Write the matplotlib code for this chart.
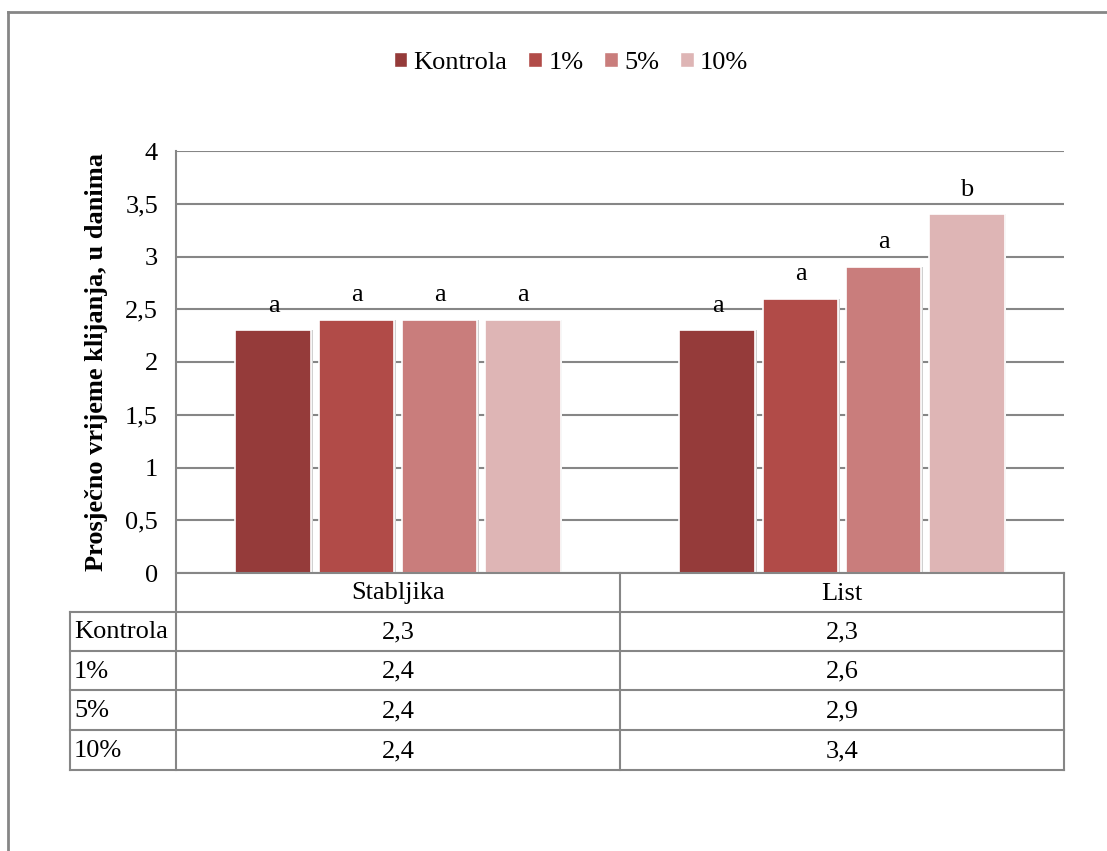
import matplotlib
matplotlib.use("Agg")
import matplotlib.pyplot as plt
from matplotlib.patches import Rectangle
from matplotlib.lines import Line2D
import numpy as np

categories = ["Stabljika", "List"]
series_names = ["Kontrola", "1%", "5%", "10%"]
values = {
    "Kontrola": [2.3, 2.3],
    "1%": [2.4, 2.6],
    "5%": [2.4, 2.9],
    "10%": [2.4, 3.4],
}
letters = {
    "Kontrola": ["a", "a"],
    "1%": ["a", "a"],
    "5%": ["a", "a"],
    "10%": ["a", "b"],
}
table_text = {
    "Kontrola": ["2,3", "2,3"],
    "1%": ["2,4", "2,6"],
    "5%": ["2,4", "2,9"],
    "10%": ["2,4", "3,4"],
}
yticks = [0, 0.5, 1, 1.5, 2, 2.5, 3, 3.5, 4]
ytick_labels = ["0", "0,5", "1", "1,5", "2", "2,5", "3", "3,5", "4"]
colors = ["#953B3A", "#B14B48", "#C97D7C", "#DEB5B5"]
ylabel = "Prosječno vrijeme klijanja, u danima"

plt.rcParams["font.family"] = ["Liberation Serif", "DejaVu Serif"]
FS = 19
W, H = 1107, 851
fig = plt.figure(figsize=(W / 100, H / 100), dpi=100)

def fx(px):
    return px / W

def fy(py):
    return 1 - py / H

grid_c = "#868686"

# plot area
left, right, top, bottom = 176, 1064, 151, 573
ax = fig.add_axes([fx(left), fy(bottom), fx(right - left), (bottom - top) / H])
ax.set_xlim(-0.5, len(categories) - 0.5)
ax.set_ylim(0, 4)
for s in ax.spines.values():
    s.set_visible(False)
ax.set_yticks(yticks)
ax.set_yticklabels(ytick_labels, fontsize=FS)
ax.tick_params(axis="y", length=0, pad=13)
ax.set_xticks([])
for t in yticks:
    ax.axhline(t, color=grid_c, lw=1.5, zorder=0)

bw = 0.171
step = 0.187
x = np.arange(len(categories))
for i, name in enumerate(series_names):
    off = (i - 1.5) * step
    ax.bar(x + off, values[name], width=bw, color=colors[i], edgecolor="white",
           linewidth=1.2, zorder=3, label=name)
    # subtle shadow
    ax.bar(x + off + 0.004, values[name], width=bw, color="#d0d0d0", linewidth=0,
           zorder=2)
    for j, v in enumerate(values[name]):
        ax.text(x[j] + off, v + 0.13, letters[name][j], ha="center", va="bottom",
                fontsize=FS, zorder=4)

ax.set_ylabel(ylabel, fontsize=FS, fontweight="bold")
ax.yaxis.set_label_coords(-0.077, 0.5)

# legend
handles = [Rectangle((0, 0), 1, 1, facecolor=c, edgecolor="white") for c in colors]
fig.legend(handles, series_names, loc="center", bbox_to_anchor=(fx(571), fy(63)),
           ncol=4, frameon=False, fontsize=FS, handlelength=0.5, handleheight=0.5,
           handletextpad=0.25, columnspacing=0.8)

# table and frame lines in figure pixel coordinates
ov = fig.add_axes([0, 0, 1, 1])
ov.set_xlim(0, W)
ov.set_ylim(H, 0)
ov.axis("off")
ov.patch.set_alpha(0)

def line(x0, y0, x1, y1, lw=1.5):
    ov.add_line(Line2D([x0, x1], [y0, y1], color=grid_c, lw=lw))

# outer frame
line(8, 12, W, 12, lw=2)
line(8, 12, 8, H, lw=2)

tbl_left = 70
mid = 620
row_y = [573, 612, 651, 690, 730, 770]
# vertical lines
line(left, top, left, row_y[-1])
line(mid, row_y[0], mid, row_y[-1])
line(right, row_y[0], right, row_y[-1])
line(tbl_left, row_y[1], tbl_left, row_y[-1])
# horizontal lines
line(left, row_y[0], right, row_y[0])
for yy in row_y[1:]:
    line(tbl_left, yy, right, yy)

col_centers = [(left + mid) / 2, (mid + right) / 2]
for j, c in enumerate(categories):
    ov.text(col_centers[j], (row_y[0] + row_y[1]) / 2 + 1, c, ha="center",
            va="center", fontsize=FS)
for i, name in enumerate(series_names):
    yc = (row_y[i + 1] + row_y[i + 2]) / 2 + 1
    ov.text(tbl_left + 4, yc, name, ha="left", va="center", fontsize=FS)
    for j in range(len(categories)):
        ov.text(col_centers[j], yc, table_text[name][j], ha="center", va="center",
                fontsize=FS)

fig.savefig("out.png", dpi=100)
